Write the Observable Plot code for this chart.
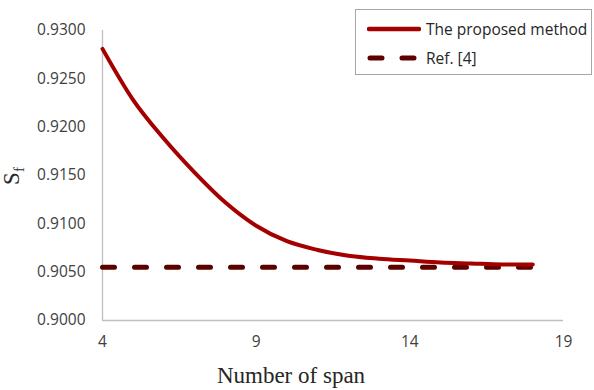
<!DOCTYPE html>
<html>
<head>
<meta charset="utf-8">
<script src="https://cdn.jsdelivr.net/npm/d3@7"></script>
<script src="https://cdn.jsdelivr.net/npm/@observablehq/plot@0.6"></script>
<style>
  html, body { margin: 0; padding: 0; background: #fff; }
  #wrap { position: relative; width: 594px; height: 390px; }
  #legend {
    position: absolute; left: 355px; top: 9px; width: 237px; height: 66px;
    border: 1px solid #a6a6a6; background: #fff; box-sizing: border-box;
    font-family: "Open Sans", sans-serif; font-size: 15.5px; color: #262626;
  }
  .row { position: absolute; left: 11px; display: flex; align-items: center; }
  .row span { margin-left: 5px; }
</style>
</head>
<body>
<div id="wrap"></div>
<script>
// Data
const spans = [4, 5, 6, 7, 8, 9, 10, 11, 12, 13, 14, 15, 16, 17, 18];
const proposed = [0.9281, 0.9228, 0.9188, 0.9153, 0.9122, 0.9098, 0.9082, 0.9073, 0.9067, 0.9064, 0.9062, 0.9060, 0.9059, 0.9058, 0.9058];
const ref4 = [0.9055, 0.9055, 0.9055, 0.9055, 0.9055, 0.9055, 0.9055, 0.9055, 0.9055, 0.9055, 0.9055, 0.9055, 0.9055, 0.9055, 0.9055];
const xTicks = [4, 9, 14, 19];
const yTicks = [0.9000, 0.9050, 0.9100, 0.9150, 0.9200, 0.9250, 0.9300];
const seriesNames = ["The proposed method", "Ref. [4]"];
const xLabel = "Number of span";

const propData = spans.map((s, i) => ({x: s, y: proposed[i]}));
const refData = spans.map((s, i) => ({x: s, y: ref4[i]}));

const W = 594, H = 390;
const chart = Plot.plot({
  width: W, height: H,
  marginLeft: 102, marginRight: 31, marginTop: 30, marginBottom: 70,
  style: { fontFamily: "'Open Sans', sans-serif", fontSize: "15.5px", color: "#404040", background: "#fff" },
  x: { domain: [4, 19], ticks: xTicks, tickSize: 0, tickPadding: 15, label: null },
  y: { domain: [0.9, 0.93], ticks: yTicks, tickSize: 0, tickPadding: 17, tickFormat: d3.format(".4f"), label: null },
  marks: [
    Plot.ruleX([4], { stroke: "#bfbfbf", strokeWidth: 1.3 }),
    Plot.ruleY([0.9], { stroke: "#bfbfbf", strokeWidth: 1.3 }),
    Plot.lineY(refData, { x: "x", y: "y", stroke: "#5e0000", strokeWidth: 5, strokeDasharray: "12,20", strokeLinecap: "round" }),
    Plot.lineY(propData, { x: "x", y: "y", stroke: "#a50000", strokeWidth: 4, curve: "monotone-x" })
  ]
});
const svg = d3.select(chart);
svg.append("text")
  .attr("x", 291).attr("y", 383)
  .attr("text-anchor", "middle")
  .attr("font-family", "'Liberation Serif', 'Times New Roman', serif")
  .attr("font-size", 23).attr("fill", "#262626")
  .text(xLabel);
const yl = svg.append("text")
  .attr("transform", "translate(19,176) rotate(-90)")
  .attr("text-anchor", "middle")
  .attr("font-family", "'Liberation Serif', 'Times New Roman', serif")
  .attr("font-size", 23).attr("fill", "#262626");
yl.append("tspan").text("S");
yl.append("tspan").attr("font-size", 15).attr("dy", 5).text("f");

const wrap = document.getElementById("wrap");
wrap.appendChild(chart);

const legend = document.createElement("div");
legend.id = "legend";
legend.innerHTML = `
  <div class="row" style="top:8px"><svg width="54" height="8"><line x1="2" y1="4" x2="52" y2="4" stroke="#a50000" stroke-width="4.5" stroke-linecap="round"/></svg><span>${seriesNames[0]}</span></div>
  <div class="row" style="top:37px"><svg width="54" height="8"><line x1="3" y1="4" x2="52" y2="4" stroke="#5e0000" stroke-width="5" stroke-linecap="round" stroke-dasharray="12,20"/></svg><span>${seriesNames[1]}</span></div>`;
wrap.appendChild(legend);
</script>
</body>
</html>
